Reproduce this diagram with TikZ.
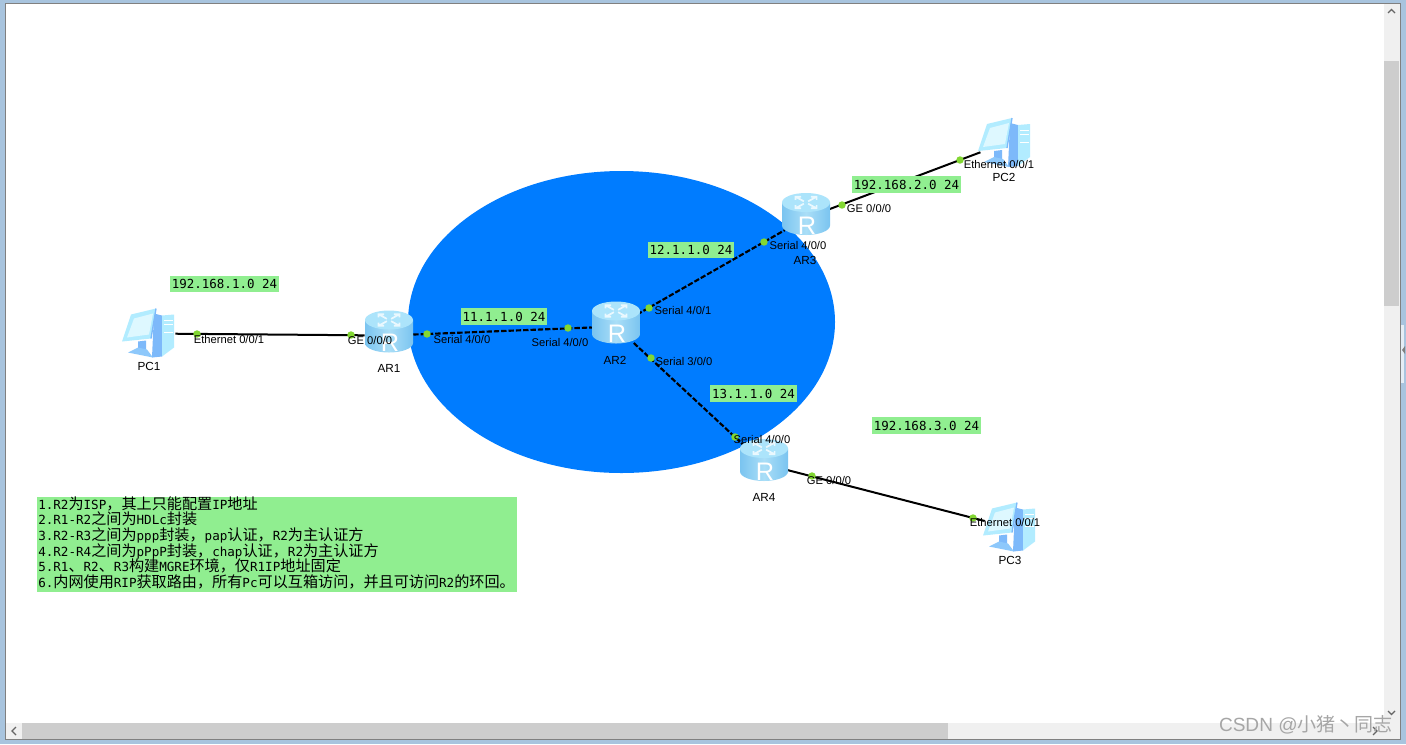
\documentclass[tikz,border=0pt]{standalone}
\usepackage{fontspec}
\setmainfont{Liberation Sans}
\setmonofont{DejaVu Sans Mono}
\newfontfamily\cjk[Scale=1.203]{Noto Sans CJK SC}
\newfontfamily\cjkmark{Noto Sans CJK SC}
\usetikzlibrary{positioning}
\definecolor{sea}{RGB}{0,124,255}
\definecolor{mint}{RGB}{144,238,144}
\definecolor{port}{RGB}{130,215,50}
\definecolor{frame}{RGB}{168,196,222}
\definecolor{track}{RGB}{240,240,240}
\definecolor{thumb}{RGB}{205,205,205}
\definecolor{shell}{RGB}{122,196,240}
\definecolor{shellmid}{RGB}{170,222,247}
\definecolor{shelltop}{RGB}{172,228,251}
\definecolor{pale}{RGB}{178,236,255}
\definecolor{screen}{RGB}{222,248,255}
\definecolor{tower}{RGB}{125,185,250}
\newcommand{\zh}[1]{{\cjk #1}}
\tikzset{
  routernode/.style={circle,minimum size=36pt,inner sep=0pt},
  pcnode/.style={circle,minimum size=39pt,inner sep=0pt},
  plain/.style={line width=1.5pt,black},
  serial/.style={line width=1.6pt,black,dash pattern=on 4pt off 1.5pt},
  dot/.style={circle,fill=port,minimum size=5.6pt,inner sep=0pt},
  portname/.style={font=\fontsize{8.4}{10}\selectfont,inner sep=0pt},
  devname/.style={font=\fontsize{8.8}{10}\selectfont,inner sep=0pt},
  netbox/.style={fill=mint,font=\fontsize{9.35}{11}\ttfamily,inner xsep=1.5pt,inner ysep=0pt,minimum height=12.7pt},
  chevron/.style={gray!80!black,line width=1pt},
  router/.pic={
    \path[left color=shell,right color=shell,middle color=shellmid] (-24,-15.5) -- (-24,7.5) arc[start angle=180,end angle=0,x radius=24,y radius=9.5] -- (24,-15.5) -- cycle;
    \path[fill=shelltop] (0,-15.5) ellipse[x radius=24,y radius=9.5];
    \foreach \a in {45,135,225,315}
      \draw[white!75!shelltop,line width=1.3pt,shift={(0,-15.5)},yscale=.55,rotate=\a] (3,0) -- (15,0) (11,-4) -- (15,0) -- (11,4);
    \node[white,font=\fontsize{19}{19}\selectfont,inner sep=0pt] at (1,7.5) {R};
  },
  computer/.pic={
    \fill[tower] (5,-20) -- (13,-18) -- (13,23) -- (3,24) -- cycle;
    \fill[pale] (13,-18) -- (25,-19) -- (25,14) -- (13,23) -- cycle;
    \foreach \y in {-13,-9,-1}
      \draw[white,line width=.6pt] (15,\y) -- (24,\y);
    \fill[tower] (-11,8) -- (-3,7) -- (-3,17) -- (-11,17) -- cycle;
    \fill[tower!70!pale] (-21,19) -- (-11,14) -- (-2,16) -- (4,24) -- cycle;
    \fill[pale] (-18,-19) -- (7,-25) -- (2,5) -- (-27,8) -- cycle;
    \draw[tower,line width=1pt] (7,-25) -- (2,5);
    \fill[screen] (-15,-15) -- (4,-20) -- (0,1) -- (-22,4) -- cycle;
  }
}
\begin{document}
\begin{tikzpicture}[x=.75pt,y=-.75pt]
  \useasboundingbox (0,0) rectangle (1406,744);
  % window
  \fill[frame] (0,0) rectangle (1406,744);
  \fill[white] (5,3) rectangle (1400,739);
  \fill[track] (1384,3) rectangle (1400,739);
  \fill[track] (5,723) rectangle (1400,739);
  \draw[gray,line width=.6pt] (5,739) -- (5,3) -- (1400,3) -- (1400,739) -- cycle;
  \fill[thumb] (1384,61) rectangle (1399,306);
  \fill[thumb] (22,723) rectangle (948,739);
  \draw[chevron] (1388,13) -- (1391.5,9.5) -- (1395,13);
  \draw[chevron] (1388,711) -- (1391.5,714.5) -- (1395,711);
  \draw[chevron] (16,727) -- (12,731) -- (16,735);
  \draw[chevron] (1373,727) -- (1377,731) -- (1373,735);
  \fill[white!70!frame] (1401,325) rectangle (1404,383);
  \fill[gray] (1402,350) -- (1405,346) -- (1405,354) -- cycle;
  \fill[sea] (621.5,322) ellipse[x radius=213.5,y radius=151];

  % devices
  \foreach \n/\x/\y in {AR1/389/335.5,AR2/616/326.5,AR3/806/218,AR4/764/464}
    \node[routernode] (\n) at (\x,\y) {};
  \foreach \n/\x/\y in {PC1/149/333.5,PC2/1005/143,PC3/1010/527.5}
    \node[pcnode] (\n) at (\x,\y) {};
  \draw[plain] (PC1) -- (AR1);
  \draw[plain] (AR3) -- (PC2);
  \draw[plain] (AR4) -- (PC3);
  \draw[serial] (AR1) -- (AR2);
  \draw[serial] (AR2) -- (AR3);
  \draw[serial] (AR2) -- (AR4);
  \foreach \n in {AR1,AR2,AR3,AR4} \pic at (\n) {router};
  \foreach \n in {PC1,PC2,PC3} \pic at (\n) {computer};
  \foreach \n/\x/\y in {d1/197/334,d2/351/335,d3/427/334,d4/568/328,d5/649/308,d6/651/358,d7/764/242,d8/842/205,d9/960/160,d10/735/437,d11/812/476,d12/973/518}
    \node[dot] (\n) at (\x,\y) {};

  \foreach \n/\t/\x/\y in {n1/AR1/389/368,n2/AR2/615/360,n3/AR3/805/260,n4/AR4/764/497,n5/PC1/149/366,n6/PC2/1004/177,n7/PC3/1010/560}
    \node[devname] (\n) at (\x,\y) {\t};
  \foreach \n/\t/\x/\y in {p1/Ethernet 0\slash 0\slash 1/229/339,p2/GE 0\slash 0\slash 0/370/340,p3/Serial 4\slash 0\slash 0/462/339,p4/Serial 4\slash 0\slash 0/560/342,p5/Serial 4\slash 0\slash 1/683/310,p6/Serial 3\slash 0\slash 0/684/361,p7/Serial 4\slash 0\slash 0/798/245,p8/GE 0\slash 0\slash 0/869/208,p9/Ethernet 0\slash 0\slash 1/999/164,p10/Serial 4\slash 0\slash 0/762/439,p11/GE 0\slash 0\slash 0/829/480,p12/Ethernet 0\slash 0\slash 1/1005/522}
    \node[portname] (\n) at (\x,\y) {\t};

  \foreach \n/\t/\x/\y in {b1/192.168.1.0 24/224.5/284,b2/11.1.1.0 24/504/316.5,b3/12.1.1.0 24/691/250,b4/13.1.1.0 24/753.5/393.5,b5/192.168.2.0 24/906.5/184.5,b6/192.168.3.0 24/926.5/425.5}
    \node[netbox] (\n) at (\x,\y) {\t};

  \fill[mint] (37,497) rectangle (517,592);
  \node[anchor=north west,inner sep=0pt,align=left,
    font=\fontsize{9.43}{11.8}\ttfamily] (notes) at (38,496) {%
    1.R2\zh{为}ISP\zh{，其上只能配置}IP\zh{地址}\\
    2.R1-R2\zh{之间为}HDLc\zh{封装}\\
    3.R2-R3\zh{之间为}ppp\zh{封装，}pap\zh{认证，}R2\zh{为主认证方}\\
    4.R2-R4\zh{之间为}pPpP\zh{封装，}chap\zh{认证，}R2\zh{为主认证方}\\
    5.R1\zh{、}R2\zh{、}R3\zh{构建}MGRE\zh{环境，仅}R1IP\zh{地址固定}\\
    6.\zh{内网使用}RIP\zh{获取路由，所有}Pc\zh{可以互箱访问，并且可访问}R2\zh{的环回。}};

  \node[text=gray!70,font=\fontsize{14.3}{16}\selectfont,inner sep=0pt] (mark) at (1306,725) {CSDN @{\cjkmark 小猪丶同志}};
\end{tikzpicture}
\end{document}
